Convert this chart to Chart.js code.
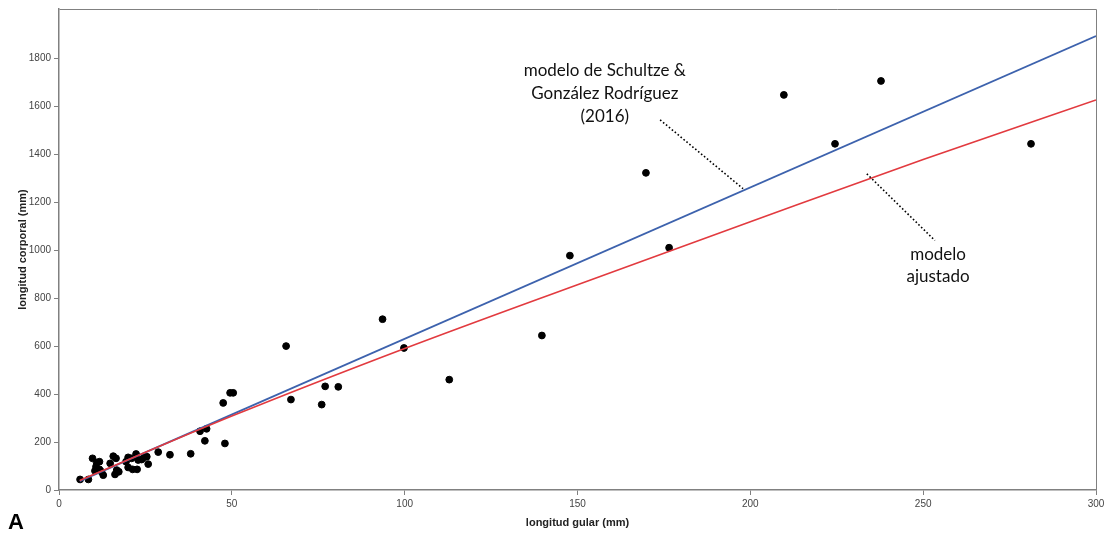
<!DOCTYPE html>
<html>
<head>
<meta charset="utf-8">
<script src="https://cdn.jsdelivr.net/npm/chart.js@4.4.1/dist/chart.umd.min.js"></script>
<style>
  html, body { margin: 0; padding: 0; background: #fff; }
  #wrap { width: 1112px; height: 535px; position: relative; }
</style>
</head>
<body>
<div id="wrap"><canvas id="c" width="1112" height="535"></canvas></div>
<script>
// Observed specimens: longitud gular (mm) vs longitud corporal (mm)
const gularX = [6.1, 8.5, 9.7, 10.9, 11.7, 10.7, 11.7, 10.4, 12.3, 12.8, 14.8, 15.7, 16.5, 16.7, 16.2, 17.3,
  19.4, 20.0, 21.0, 20.0, 21.3, 22.6, 22.3, 22.9, 23.9, 24.6, 25.4, 25.8, 28.7, 32.1, 38.1, 40.8, 42.7, 42.2,
  47.5, 48.0, 49.5, 50.4, 65.7, 67.1, 76.0, 77.0, 80.8, 93.6, 99.8, 112.9, 139.7, 147.8, 169.8, 176.5,
  209.7, 224.5, 237.8, 281.2];
const corporalY = [44, 44, 132, 114, 118, 97, 86, 80, 76, 62, 111, 141, 132, 83, 65, 76,
  118, 136, 132, 94, 86, 86, 150, 125, 127, 136, 139, 108, 158, 147, 151, 245, 255, 205,
  363, 194, 405, 405, 600, 377, 356, 432, 430, 712, 592, 460, 644, 977, 1322, 1010,
  1647, 1443, 1705, 1443];

// Model line of Schultze & González Rodríguez (2016)
const schultzeX = [6, 300];
const schultzeY = [37, 1892];

// Fitted model (curved)
const ajustadoX = [6, 50, 100, 150, 200, 250, 300];
const ajustadoY = [40, 308, 590, 856, 1118, 1378, 1626];

const xTicks = [0, 50, 100, 150, 200, 250, 300];
const yTicks = [0, 200, 400, 600, 800, 1000, 1200, 1400, 1600, 1800];

const xTitle = 'longitud gular (mm)';
const yTitle = 'longitud corporal (mm)';
const annotSchultze = ['modelo de Schultze &', 'González Rodríguez', '(2016)'];
const annotAjustado = ['modelo', 'ajustado'];
const panelLetter = 'A';

const zip = (xs, ys) => xs.map((x, i) => ({ x: x, y: ys[i] }));

const decorPlugin = {
  id: 'decor',
  afterDraw(chart) {
    const { ctx, chartArea: a, scales } = chart;
    const xs = scales.x, ys = scales.y;
    const px = v => xs.getPixelForValue(v);
    const py = v => ys.getPixelForValue(v);
    ctx.save();
    // box around plot
    ctx.strokeStyle = '#808080';
    ctx.lineWidth = 1;
    ctx.beginPath();
    ctx.moveTo(Math.round(a.left) + 0.5, Math.round(a.top) + 0.5);
    ctx.lineTo(Math.round(a.right) + 0.5, Math.round(a.top) + 0.5);
    ctx.lineTo(Math.round(a.right) + 0.5, Math.round(a.bottom) + 0.5);
    ctx.stroke();

    // annotations text
    ctx.fillStyle = '#111';
    ctx.font = '17px Lato, "Open Sans", sans-serif';
    ctx.textAlign = 'center';
    ctx.textBaseline = 'middle';
    const t1x = px(157.9);
    [1750, 1654, 1558].forEach((yv, i) => ctx.fillText(annotSchultze[i], t1x, py(yv)));
    const t2x = px(254.3);
    [981, 890].forEach((yv, i) => ctx.fillText(annotAjustado[i], t2x, py(yv)));

    // dotted leader lines
    ctx.strokeStyle = '#000';
    ctx.lineWidth = 1.6;
    ctx.setLineDash([1.6, 2.2]);
    ctx.beginPath();
    ctx.moveTo(px(173.9), py(1543));
    ctx.lineTo(px(197.9), py(1256));
    ctx.moveTo(px(233.7), py(1318));
    ctx.lineTo(px(253.4), py(1040));
    ctx.stroke();
    ctx.setLineDash([]);

    // panel letter
    ctx.fillStyle = '#000';
    ctx.font = 'bold 22px "Liberation Sans", Arial, sans-serif';
    ctx.textAlign = 'left';
    ctx.textBaseline = 'alphabetic';
    ctx.fillText(panelLetter, 8, 529);
    ctx.restore();
  }
};

new Chart(document.getElementById('c'), {
  type: 'scatter',
  data: {
    datasets: [
      {
        label: 'modelo de Schultze & González Rodríguez (2016)',
        type: 'line',
        data: zip(schultzeX, schultzeY),
        borderColor: '#3d62ad',
        borderWidth: 1.8,
        pointRadius: 0,
        fill: false,
        order: 2
      },
      {
        label: 'modelo ajustado',
        type: 'line',
        data: zip(ajustadoX, ajustadoY),
        borderColor: '#e23a3f',
        borderWidth: 1.6,
        pointRadius: 0,
        cubicInterpolationMode: 'monotone',
        fill: false,
        order: 1
      },
      {
        label: 'especímenes',
        data: zip(gularX, corporalY),
        backgroundColor: '#000',
        borderColor: '#000',
        pointRadius: 3.4,
        pointHoverRadius: 3.4,
        order: 3
      }
    ]
  },
  options: {
    responsive: false,
    animation: false,
    devicePixelRatio: 1,
    layout: { padding: { left: 0, right: 16, top: 8, bottom: 0 } },
    plugins: { legend: { display: false }, tooltip: { enabled: false } },
    scales: {
      x: {
        type: 'linear',
        min: 0,
        max: 300,
        afterBuildTicks: s => { s.ticks = xTicks.map(v => ({ value: v })); },
        afterFit: s => { s.height = 45; },
        ticks: { color: '#444', font: { size: 10, family: '"Liberation Sans", Arial, sans-serif' }, padding: 3, maxRotation: 0, callback: v => String(v) },
        grid: { drawOnChartArea: false, drawTicks: true, tickLength: 5, color: '#808080' },
        border: { display: true, color: '#808080', width: 1.5 },
        title: { display: true, text: xTitle, color: '#222', font: { size: 11, weight: 'bold', family: '"Liberation Sans", Arial, sans-serif' }, padding: { top: 2, bottom: 5 } }
      },
      y: {
        type: 'linear',
        min: 0,
        max: 2005,
        afterBuildTicks: s => { s.ticks = yTicks.map(v => ({ value: v })); },
        afterFit: s => { s.width = 59; },
        ticks: { color: '#444', font: { size: 10, family: '"Liberation Sans", Arial, sans-serif' }, padding: 3, callback: v => String(v) },
        grid: { drawOnChartArea: false, drawTicks: true, tickLength: 5, color: '#808080' },
        border: { display: true, color: '#808080', width: 1.5 },
        title: { display: true, text: yTitle, color: '#222', font: { size: 11, weight: 'bold', family: '"Liberation Sans", Arial, sans-serif' }, padding: { top: 16, bottom: 2 } }
      }
    }
  },
  plugins: [decorPlugin]
});
</script>
</body>
</html>
